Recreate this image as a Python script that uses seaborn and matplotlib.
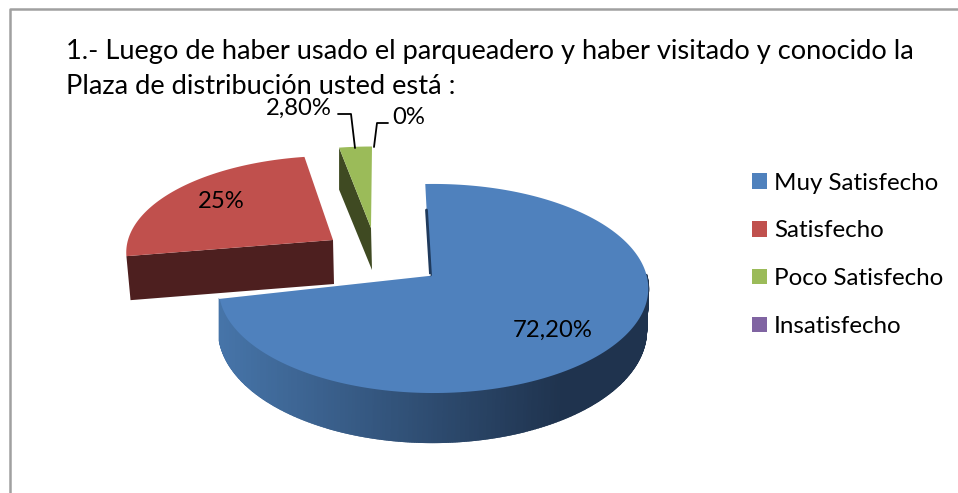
import numpy as np
import seaborn as sns
import matplotlib
matplotlib.use("Agg")
import matplotlib.pyplot as plt
from matplotlib.patches import Patch

sns.set_theme(style="white")
plt.rcParams['font.family'] = ['Lato', 'DejaVu Sans']

title_lines = ["1.- Luego de haber usado el parqueadero y haber visitado y conocido la",
               "Plaza de distribución usted está :"]
categories = ["Muy Satisfecho", "Satisfecho", "Poco Satisfecho", "Insatisfecho"]
values = [72.2, 25, 2.8, 0]
value_labels = ["72,20%", "25%", "2,80%", "0%"]

top_colors = ["#4f81bd", "#c0504d", "#9bbb59", "#8064a2"]
wall_colors = ["#3a5f8e", "#4d1f1f", "#3f4a22", "#40325a"]

# pixel layout of each exploded slice: apex, rim shift, radii, rotation, wall depth
layout = {
    "Muy Satisfecho": dict(apex=(430, 275), x0=3.5, rx=213, a=102.8, rot=-2.5),
    "Satisfecho": dict(apex=(333, 240), x0=2, rx=207, a=95, rot=0.5, depth=44, squeeze=0.98),
    "Poco Satisfecho": dict(apex=(371, 228), x0=1, rx=212, a=92, rot=0, depth=42, squeeze=1.0),
}
k = 0.129


def rim(theta, apex, x0, rx, a, rot, **kw):
    # theta in degrees clockwise from north, squashed circle with some perspective
    t = np.radians(np.asarray(theta) + rot)
    u, v = np.sin(t), -np.cos(t)
    d = 1 - k * v
    return apex[0] + x0 + rx * u / d, apex[1] + a * v / d


fig = plt.figure(figsize=(9.58, 4.93), dpi=100, facecolor="white")
ax = fig.add_axes([0, 0, 1, 1])
ax.set_xlim(0, 958)
ax.set_ylim(493, 0)
ax.axis("off")

# chart frame, only left and top are in the crop
ax.plot([10.5, 10.5, 958], [493, 8.5, 8.5], color="#a0a0a0", lw=1.8, zorder=1)

# slice angles from the values
edges = np.cumsum([0] + values) * 3.6
sl = [np.linspace(edges[i], edges[i + 1], 200) for i in range(3)]

# blue slice: round wall first, with a gradient
lb = layout["Muy Satisfecho"]
bottom = dict(apex=(430, 316), x0=2.5, rx=212, a=110, rot=-2.5)
ramp = sns.blend_palette(["#4674a8", "#1f334e"], 120)
th = np.linspace(92, edges[1], 400)
xt, yt = rim(th, **lb)
xb, yb = rim(th, **bottom)
for i in range(len(th) - 1):
    c = ramp[int(np.clip((xb[i] - 220) / 340, 0, 1) * 119)]
    ax.fill([xt[i], xt[i + 1], xb[i + 1], xb[i]], [yt[i], yt[i + 1], yb[i + 1], yb[i]],
            color=c, lw=1.2, zorder=2)

# top faces and flat walls
for i, name in enumerate(categories[:3]):
    p = layout[name]
    x, y = rim(sl[i], **p)
    ax_, ay = p["apex"]
    if "depth" in p:
        # radial wall on the left side of the slice, faces the viewer
        rx0, ry0 = rim([edges[i]], **p)
        sq = p["squeeze"]
        wall_x = [ax_, rx0[0], ax_ + (rx0[0] - ax_) * sq, ax_ + 1]
        wall_y = [ay, ry0[0], ry0[0] + p["depth"], ay + p["depth"]]
        ax.fill(wall_x, wall_y, color=wall_colors[i], lw=0, zorder=3 + i)
    ax.fill(np.r_[ax_, x], np.r_[ay, y], color=top_colors[i], lw=0, zorder=3 + i)

# light edge on blue under the red wall and dark sliver at the start of blue
x, y = rim(sl[0], **lb)
ax.plot([lb["apex"][0], x[-1]], [lb["apex"][1], y[-1]], color="white", lw=1.2, zorder=3.5)
ax.plot([426.5, 430.5], [210, 275], color="#1f3a5c", lw=2, zorder=3.4)

# data labels
fs_label = 17.2
ax.text(553, 330, value_labels[0], fontsize=fs_label, ha="center", va="center", color="black", zorder=10)
ax.text(221, 201, value_labels[1], fontsize=fs_label, ha="center", va="center", color="black", zorder=10)
ax.text(332, 108, value_labels[2], fontsize=fs_label, ha="right", va="center", color="black", zorder=10)
ax.text(392, 118, value_labels[3], fontsize=fs_label, ha="left", va="center", color="black", zorder=10)

# leader lines
ax.plot([338, 351, 355], [114, 114, 148], color="black", lw=1.3, zorder=9)
ax.plot([388, 377, 374], [123, 123, 147], color="black", lw=1.3, zorder=9)

# title
ax.text(66, 52, title_lines[0], fontsize=19.6, ha="left", va="center", color="black", zorder=8)
ax.text(66, 86, title_lines[1], fontsize=19.6, ha="left", va="center", color="black", zorder=8)

# legend
handles = [Patch(facecolor=c, edgecolor="none", label=n) for c, n in zip(top_colors, categories)]
fs = 17.4
ax.legend(handles=handles, loc="upper left", bbox_to_anchor=(752, 172.5), bbox_transform=ax.transData,
          frameon=False, fontsize=fs, borderpad=0, borderaxespad=0, handlelength=10.8 / fs,
          handleheight=10.8 / fs, handletextpad=0.28, labelspacing=1.11, labelcolor="black")

fig.savefig("out.png", dpi=100)
